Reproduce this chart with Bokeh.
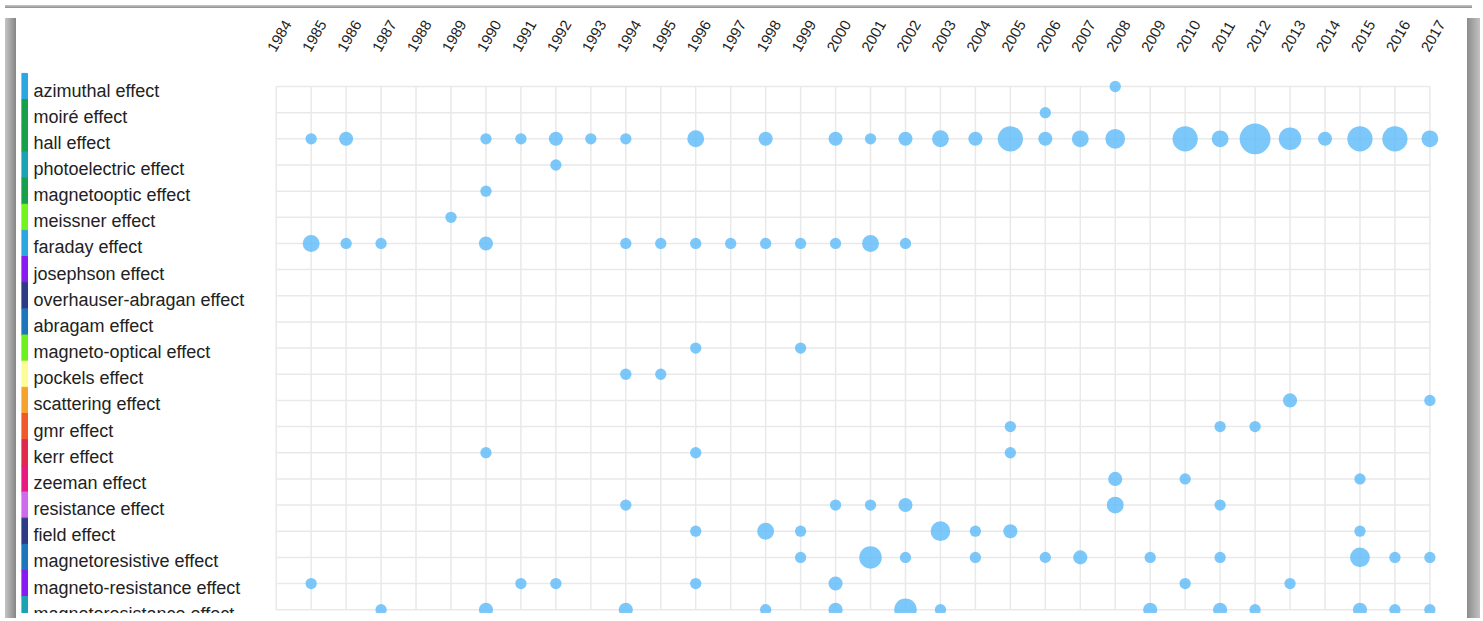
import math
from bokeh.plotting import figure
from bokeh.models import Range1d, FixedTicker, Div, ColumnDataSource, LinearAxis
from bokeh.layouts import column, row
from bokeh.embed import file_html
from bokeh.resources import INLINE
from bokeh.core.properties import value

# ---------------- data ----------------
effects = [
    "azimuthal effect", "moiré effect", "hall effect", "photoelectric effect",
    "magnetooptic effect", "meissner effect", "faraday effect", "josephson effect",
    "overhauser-abragan effect", "abragam effect", "magneto-optical effect",
    "pockels effect", "scattering effect", "gmr effect", "kerr effect",
    "zeeman effect", "resistance effect", "field effect", "magnetoresistive effect",
    "magneto-resistance effect", "magnetoresistance effect",
]
effect_colors = [
    "#2aa6e0", "#17a04c", "#17a04c", "#19a3b5", "#17a04c", "#72f41c", "#2aa6e0",
    "#8a1af2", "#2e3a86", "#1c76bc", "#6cf01e", "#fdfd98", "#f6a32e", "#f2592a",
    "#e02a4c", "#e8197f", "#cf6aef", "#2e3a86", "#1c76bc", "#8a1af2", "#19a3b5",
]
year_ticks = [1984, 1985, 1986, 1987, 1988, 1989, 1990, 1991, 1992, 1993, 1994,
              1995, 1996, 1997, 1998, 1999, 2000, 2001, 2002, 2003, 2004, 2005,
              2006, 2007, 2008, 2009, 2010, 2011, 2012, 2013, 2014, 2015, 2016, 2017]

azimuthal_years = [2008]
azimuthal_counts = [1]
moire_years = [2006]
moire_counts = [1]
hall_years = [1985, 1986, 1990, 1991, 1992, 1993, 1994, 1996, 1998, 2000, 2001, 2002, 2003,
              2004, 2005, 2006, 2007, 2008, 2010, 2011, 2012, 2013, 2014, 2015, 2016, 2017]
hall_counts = [1, 2, 1, 1, 2, 1, 1, 3, 2, 2, 1, 2, 3,
               2, 6, 2, 3, 4, 6, 3, 8, 5, 2, 6, 6, 3]
photoelectric_years = [1992]
photoelectric_counts = [1]
magnetooptic_years = [1990]
magnetooptic_counts = [1]
meissner_years = [1989]
meissner_counts = [1]
faraday_years = [1985, 1986, 1987, 1990, 1994, 1995, 1996, 1997, 1998, 1999, 2000, 2001, 2002]
faraday_counts = [3, 1, 1, 2, 1, 1, 1, 1, 1, 1, 1, 3, 1]
josephson_years, josephson_counts = [], []
overhauser_years, overhauser_counts = [], []
abragam_years, abragam_counts = [], []
magneto_optical_years = [1996, 1999]
magneto_optical_counts = [1, 1]
pockels_years = [1994, 1995]
pockels_counts = [1, 1]
scattering_years = [2013, 2017]
scattering_counts = [2, 1]
gmr_years = [2005, 2011, 2012]
gmr_counts = [1, 1, 1]
kerr_years = [1990, 1996, 2005]
kerr_counts = [1, 1, 1]
zeeman_years = [2008, 2010, 2015]
zeeman_counts = [2, 1, 1]
resistance_years = [1994, 2000, 2001, 2002, 2008, 2011]
resistance_counts = [1, 1, 1, 2, 3, 1]
field_years = [1996, 1998, 1999, 2003, 2004, 2005, 2015]
field_counts = [1, 3, 1, 4, 1, 2, 1]
magnetoresistive_years = [1999, 2001, 2002, 2004, 2006, 2007, 2009, 2011, 2015, 2016, 2017]
magnetoresistive_counts = [1, 5, 1, 1, 1, 2, 1, 1, 4, 1, 1]
magneto_resistance_years = [1985, 1991, 1992, 1996, 2000, 2010, 2013]
magneto_resistance_counts = [1, 1, 1, 1, 2, 1, 1]
magnetoresistance_years = [1987, 1990, 1994, 1998, 2000, 2002, 2003, 2009, 2011, 2012, 2015, 2016, 2017]
magnetoresistance_counts = [1, 2, 2, 1, 2, 5, 1, 2, 2, 1, 2, 1, 1]

series = [
    (azimuthal_years, azimuthal_counts), (moire_years, moire_counts),
    (hall_years, hall_counts), (photoelectric_years, photoelectric_counts),
    (magnetooptic_years, magnetooptic_counts), (meissner_years, meissner_counts),
    (faraday_years, faraday_counts), (josephson_years, josephson_counts),
    (overhauser_years, overhauser_counts), (abragam_years, abragam_counts),
    (magneto_optical_years, magneto_optical_counts), (pockels_years, pockels_counts),
    (scattering_years, scattering_counts), (gmr_years, gmr_counts),
    (kerr_years, kerr_counts), (zeeman_years, zeeman_counts),
    (resistance_years, resistance_counts), (field_years, field_counts),
    (magnetoresistive_years, magnetoresistive_counts),
    (magneto_resistance_years, magneto_resistance_counts),
    (magnetoresistance_years, magnetoresistance_counts),
]

# ---------------- geometry / style ----------------
W, H = 1441, 600
X_PX = 34.96          # pixels per year
ROW_PX = 26.16        # pixels per row
FIRST_YEAR_PX = 254.7 # x pixel of first year inside the panel
FRAME_TOP = 49
FIRST_ROW_PX = 24.0   # first row below frame top
LABEL_SHIFT_PX = 5.0  # tick labels sit slightly left of their grid line
n = len(effects)

x0 = year_ticks[0] - FIRST_YEAR_PX / X_PX
x1 = x0 + W / X_PX
frame_h = H - FRAME_TOP
y_top = -FIRST_ROW_PX / ROW_PX
y_bot = y_top + frame_h / ROW_PX

p = figure(width=W, height=H,
           x_range=Range1d(x0, x1), y_range=Range1d(y_bot, y_top),
           x_axis_location=None, y_axis_location=None,
           toolbar_location=None, output_backend="svg",
           min_border_left=0, min_border_right=0,
           min_border_top=FRAME_TOP, min_border_bottom=0)
p.outline_line_color = None
p.background_fill_color = "white"
p.border_fill_color = "white"
p.xgrid.grid_line_color = None
p.ygrid.grid_line_color = None

shift = LABEL_SHIFT_PX / X_PX
p.extra_x_ranges = {"labels": Range1d(x0 + shift, x1 + shift)}
ax = LinearAxis(x_range_name="labels", ticker=FixedTicker(ticks=year_ticks))
ax.major_label_orientation = math.pi / 3
ax.axis_line_color = None
ax.major_tick_line_color = None
ax.minor_tick_line_color = None
ax.major_tick_out = 0
ax.major_tick_in = 0
ax.minor_tick_out = 0
ax.major_label_standoff = 12
ax.major_label_text_font = "Liberation Sans"
ax.major_label_text_font_size = "15px"
ax.major_label_text_color = "#222222"
p.add_layout(ax, "above")

idx = list(range(n))

# colour bars at the left of the labels
p.hbar(y=idx, height=1.0, left=x0, right=x0 + 6 / X_PX, color=effect_colors)

# grid
grid_color = "#e9e9e9"
p.segment(x0=[year_ticks[0]] * n, x1=[year_ticks[-1]] * n, y0=idx, y1=idx,
          line_color=grid_color, line_width=1.5)
p.segment(x0=year_ticks, x1=year_ticks, y0=[0] * len(year_ticks),
          y1=[n - 1] * len(year_ticks), line_color=grid_color, line_width=1.5)

# bubbles
bx, by, bs = [], [], []
for i, (ys, cs) in enumerate(series):
    for yv, cv in zip(ys, cs):
        bx.append(yv)
        by.append(i)
        bs.append(8.5 + 2.8 * cv)
src = ColumnDataSource(dict(x=bx, y=by, size=bs))
p.scatter(x="x", y="y", size="size", source=src, marker="circle",
          fill_color="#5cbaf9", fill_alpha=0.8, line_color=None)

# row labels
p.text(x=[x0 + 12 / X_PX] * n, y=[i + 4 / ROW_PX for i in idx], text=effects,
       text_font=value("Liberation Sans"), text_font_size="18px",
       text_baseline="alphabetic", text_align="left", text_color="#222222")

top = Div(text="", width=1467, height=3,
          styles={"background": "linear-gradient(to bottom, #c9c9c9, #8d8d8d)"})
left = Div(text="", width=11, height=H,
           styles={"background": "linear-gradient(to right, #c4c4c4, #858585)"})
right = Div(text="", width=13, height=H,
            styles={"background": "linear-gradient(to right, #8d8d8d, #c2c2c2)"})

layout = column(top, row(left, p, right, spacing=0), spacing=0)

open("out.html", "w").write(file_html(layout, INLINE))
